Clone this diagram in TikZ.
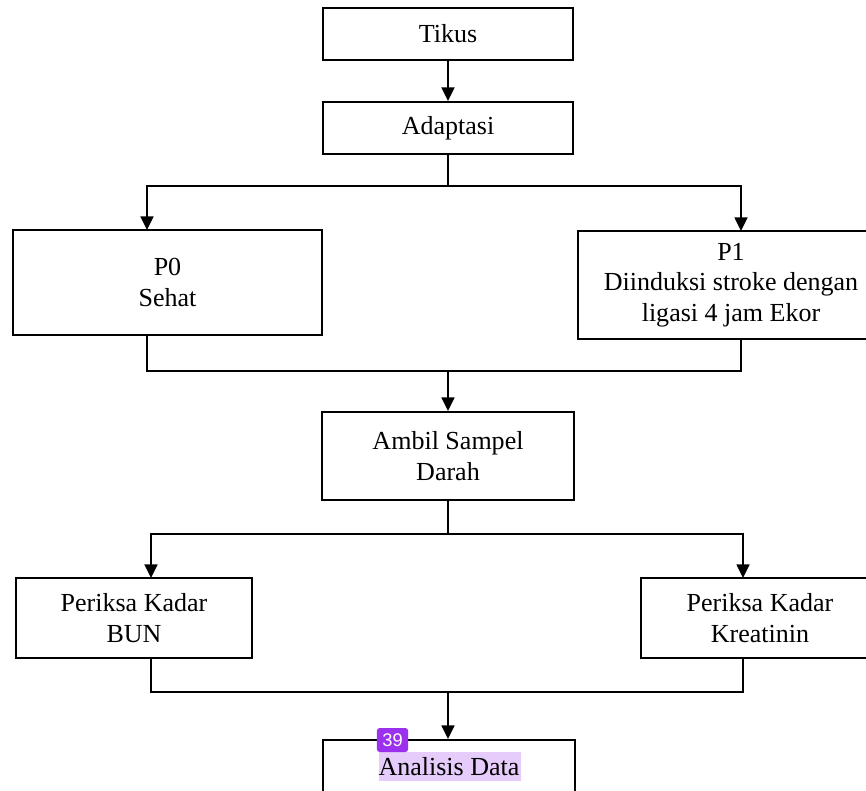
\documentclass[tikz,border=0pt]{standalone}
\usepackage{fontspec}
\setmainfont{Liberation Serif}
\newfontfamily\badgefont{Liberation Sans}
\usepackage{xcolor}
\usetikzlibrary{arrows.meta, positioning, backgrounds, calc}
\definecolor{hlpurple}{HTML}{E6CCFA}
\definecolor{badgepurple}{HTML}{9B30EE}

\begin{document}
\begin{tikzpicture}[
            x=0.025cm, y=-0.025cm,
            proc/.style={rectangle, draw=black, line width=1.4pt, inner sep=0pt, align=center, font=\fontsize{18.5}{21.5}\selectfont},
            flow/.style={line width=1.4pt, -{Triangle[length=0.34cm, width=0.32cm]}},
            link/.style={line width=1.4pt},
            badge/.style={rectangle, rounded corners=2pt, fill=badgepurple, text=white, inner sep=0pt, minimum width=0.78cm, minimum height=0.6cm, font=\badgefont\fontsize{13}{14}\selectfont}
        ]
            \useasboundingbox (0,0) rectangle (866,790);

% Top of the flow
            \node[proc, minimum width=6.27cm, minimum height=1.3cm] (tikus) at (448,34) {Tikus};
            \node[proc, minimum width=6.27cm, minimum height=1.3cm] (adaptasi) at (448,128) {Adaptasi};

% Groups
            \node[proc, minimum width=7.72cm, minimum height=2.62cm] (p0) at (167.5,282.5) {P0\\Sehat};
            \node[proc, minimum width=7.65cm, minimum height=2.7cm] (p1) at (731,285) {P1\\Diinduksi stroke dengan\\ligasi 4 jam Ekor};

% Sampling
            \node[proc, minimum width=6.32cm, minimum height=2.2cm] (ambil) at (448,456) {Ambil Sampel\\Darah};

% Checks
            \node[proc, minimum width=5.9cm, minimum height=2cm] (bun) at (134,618) {Periksa Kadar\\BUN};
            \node[proc, minimum width=5.95cm, minimum height=2cm] (kreatinin) at (760,618) {Periksa Kadar\\Kreatinin};

% Analysis
            \node[proc, minimum width=6.3cm, minimum height=1.35cm] (analisis) at (449,767) {Analisis Data};
            \begin{scope}[on background layer]
                \fill[hlpurple] (379,752) rectangle (521,781);
            \end{scope}
            \node[badge] (hal) at (392.5,740) {39};

% Junction points
            \coordinate (j1) at (448,186);
            \coordinate (p0in) at (147,230);
            \coordinate (p1in) at (741,231);
            \coordinate (j2) at (448,371);
            \coordinate (j3) at (448,534);
            \coordinate (bunin) at (151,578);
            \coordinate (kreatin) at (743,578);
            \coordinate (j4) at (448,692);

% Connectors
            \draw[flow] (tikus) -- (adaptasi);
            \draw[link] (adaptasi.south) -- (j1);
            \draw[flow] (j1) -| (p0in);
            \draw[flow] (j1) -| (p1in);
            \draw[link] (p0in |- p0.south) |- (j2);
            \draw[link] (p1in |- p1.south) |- (j2);
            \draw[flow] (j2) -- (ambil);
            \draw[link] (ambil.south) -- (j3);
            \draw[flow] (j3) -| (bunin);
            \draw[flow] (j3) -| (kreatin);
            \draw[link] (bunin |- bun.south) |- (j4);
            \draw[link] (kreatin |- kreatinin.south) |- (j4);
            \draw[flow] (j4) -- (analisis.north -| j4);

        \end{tikzpicture}
\end{document}
